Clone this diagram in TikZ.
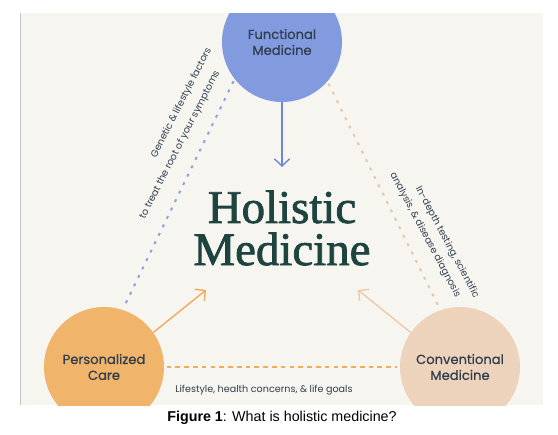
\documentclass[tikz,border=0pt]{standalone}
\usepackage{fontspec}
\setmainfont{Poppins}
\newfontfamily\bubblefont[FakeBold=0.6]{Poppins}
\newfontfamily\displayserif[FakeBold=1.6]{Liberation Serif}
\newfontfamily\captionsans{Liberation Sans}
\usepackage{xcolor}
\usepackage{tikz}
\usetikzlibrary{arrows.meta}
\definecolor{panelbg}{RGB}{247,245,240}
\definecolor{funcblue}{RGB}{130,154,222}
\definecolor{persorange}{RGB}{240,180,106}
\definecolor{convpeach}{RGB}{237,211,188}
\definecolor{inkslate}{RGB}{48,62,78}
\definecolor{inkteal}{RGB}{30,68,64}
\tikzset{
  bubble/.style={circle, minimum size=3.6cm, inner sep=0pt, align=center,
                 text=inkslate, font=\bubblefont\fontsize{11.2}{13.6}\selectfont},
  note/.style={text=inkslate, font=\fontsize{8.2}{9}\selectfont, inner sep=0pt},
  arrowline/.style={-{Straight Barb[length=2.2mm, width=4.6mm]}, line width=1.2pt},
  dotline/.style={line width=1.7pt, dash pattern=on 2.5pt off 5.5pt, shorten <=2pt, shorten >=4pt},
}

\begin{document}
\begin{tikzpicture}[x=0.03cm, y=0.03cm]
\useasboundingbox (0,0) rectangle (558,434);
\fill[panelbg] (20,29) rectangle (543,421);
\draw[gray!45, line width=0.6pt] (20,29) -- (20,421);

\begin{scope}
\clip (20,29) rectangle (543,421);
\node[bubble, fill=funcblue]   (func) at (282,392) {Functional\\Medicine};
\node[bubble, fill=persorange] (pers) at (104,67)  {Personalized\\Care};
\node[bubble, fill=convpeach]  (conv) at (460,67)  {Conventional\\Medicine};
\end{scope}

\node[text=inkteal, align=center, font=\displayserif\fontsize{40}{36}\selectfont]
  (holistic) at (282,206) {Holistic\\Medicine};

\coordinate (tipfunc) at (282,267);
\coordinate (tippers) at (206,144);
\coordinate (tipconv) at (358,144);

% arrows into the centre
\draw[arrowline, draw={rgb,255:red,110;green,135;blue,215}] (func.south) -- (tipfunc);
\draw[arrowline, draw={rgb,255:red,240;green,172;blue,92}] (pers.35) -- (tippers);
\draw[arrowline, draw={rgb,255:red,236;green,202;blue,174}] (conv.145) -- (tipconv);

% links between the circles
\draw[dotline, draw={rgb,255:red,140;green,160;blue,226}] (func.218) -- (pers.72);
\draw[dotline, draw={rgb,255:red,233;green,198;blue,168}] (func.319) -- (conv.109);
\draw[line width=1.6pt, dash pattern=on 4pt off 3.5pt, draw={rgb,255:red,240;green,172;blue,92},
      shorten <=2pt, shorten >=2pt] (pers.east) -- (conv.west);

\node[note, rotate=63]  (genetic) at (181.5,331) {Genetic \& lifestyle factors};
\node[note, rotate=63]  (root)    at (180,289)   {to treat the root of your symptoms};
\node[note, rotate=-62] (depth)   at (447,191.5) {In-depth testing, scientific};
\node[note, rotate=-62] (diag)    at (425,199)   {analysis, \& disease diagnosis};
\node[note]             (goals)   at (264,44)    {Lifestyle, health concerns, \& life goals};

\node[font=\captionsans\fontsize{12.2}{14}\selectfont] (caption) at (282,16)
  {\textbf{Figure 1}: What is holistic medicine?};
\end{tikzpicture}
\end{document}
